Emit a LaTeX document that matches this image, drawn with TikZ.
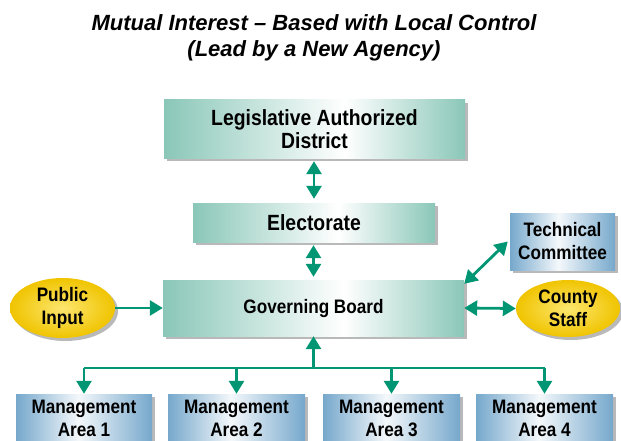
\documentclass[tikz,border=0pt]{standalone}
\usepackage{fontspec}
\setmainfont{Liberation Sans}
\newfontfamily\boxfont{Liberation Sans}[FakeStretch=0.88]
\usepackage{xcolor}
\usepackage{tikz}
\usetikzlibrary{arrows.meta,positioning,shadows,shapes.geometric}

\definecolor{tealc}{RGB}{138,199,184}
\definecolor{bluec}{RGB}{118,168,204}
\definecolor{goldc}{RGB}{240,196,0}
\definecolor{goldlight}{RGB}{252,230,110}
\definecolor{arrowc}{RGB}{0,150,115}
\definecolor{shadowc}{RGB}{185,185,185}
\pgfdeclarehorizontalshading{tealfade}{100bp}{color(0bp)=(tealc); color(25bp)=(tealc); color(55bp)=(white); color(75bp)=(tealc); color(100bp)=(tealc)}
\pgfdeclarehorizontalshading{bluefade}{100bp}{color(0bp)=(bluec); color(25bp)=(bluec); color(48bp)=(white!92!bluec); color(75bp)=(bluec); color(100bp)=(bluec)}

\begin{document}
\begin{tikzpicture}[x=1pt,y=-1pt,
  label/.style={font=\boxfont\bfseries\fontsize{19.5}{23}\selectfont,align=center,inner sep=0pt},
  shadowed/.style={drop shadow={shadow xshift=3pt,shadow yshift=-3pt,fill=shadowc,opacity=1}},
  tealbox/.style={label,shadowed,shading=tealfade},
  bluebox/.style={label,shadowed,shading=bluefade,minimum width=136pt,minimum height=48pt},
  goldoval/.style={label,shadowed,ellipse,inner color=goldlight,outer color=goldc},
  link/.style={draw=arrowc,line width=2.8pt,-{Triangle[length=13pt,width=15pt]}},
  twoway/.style={link,{Triangle[length=13pt,width=15pt]}-{Triangle[length=13pt,width=15pt]}}]
\useasboundingbox (0,0) rectangle (621,441);
% title
\node[font=\bfseries\itshape\fontsize{22}{26}\selectfont,align=center] (title) at (314,38)
  {Mutual Interest – Based with Local Control\\(Lead by a New Agency)};
% boxes
\node[tealbox,minimum width=301pt,minimum height=58pt,font=\boxfont\bfseries\fontsize{22}{23}\selectfont] (lad) at (314.5,129) {Legislative Authorized\\District};
\node[tealbox,minimum width=242pt,minimum height=39pt,font=\boxfont\bfseries\fontsize{22}{23}\selectfont] (elec) at (314,222.5) {Electorate};
\node[tealbox,minimum width=301pt,minimum height=56pt] (gov) at (313.5,308) {Governing Board};
\node[bluebox,minimum width=105pt,minimum height=57pt] (tech) at (562.5,241.5) {Technical\\Committee};
\node[goldoval,minimum width=104pt,minimum height=57pt] (county) at (568,308.5) {County\\Staff};
\node[goldoval,minimum width=105pt,minimum height=60pt] (public) at (62.5,308) {Public\\Input};
\node[bluebox] (ma1) at (84,418) {Management\\Area 1};
\node[bluebox,minimum width=137pt] (ma2) at (236.5,418) {Management\\Area 2};
\node[bluebox,minimum width=137pt] (ma3) at (391.5,418) {Management\\Area 3};
\node[bluebox,minimum width=137pt] (ma4) at (544.5,418) {Management\\Area 4};
% connectors
\coordinate (bus) at (313.5,368);
\draw[twoway,shorten <=3pt,shorten >=4pt] (elec.north |- lad.south) -- (elec.north);
\draw[twoway,shorten <=3pt,shorten >=3pt] (elec.south -| gov.north) -- (gov.north);
\draw[link] (public.east) -- (gov.west);
\draw[twoway] (gov.east) -- (county.west);
\draw[twoway] ([yshift=-4pt]gov.north east) -- ([xshift=-2pt]tech.west);
\draw[arrowc,line width=2.8pt] (bus -| ma1) -- (bus -| ma4);
\draw[link] (bus) -- (gov.south);
\foreach \m in {ma1,ma2,ma3,ma4}
  \draw[link] (bus -| \m) -- (\m.north);
\end{tikzpicture}
\end{document}
